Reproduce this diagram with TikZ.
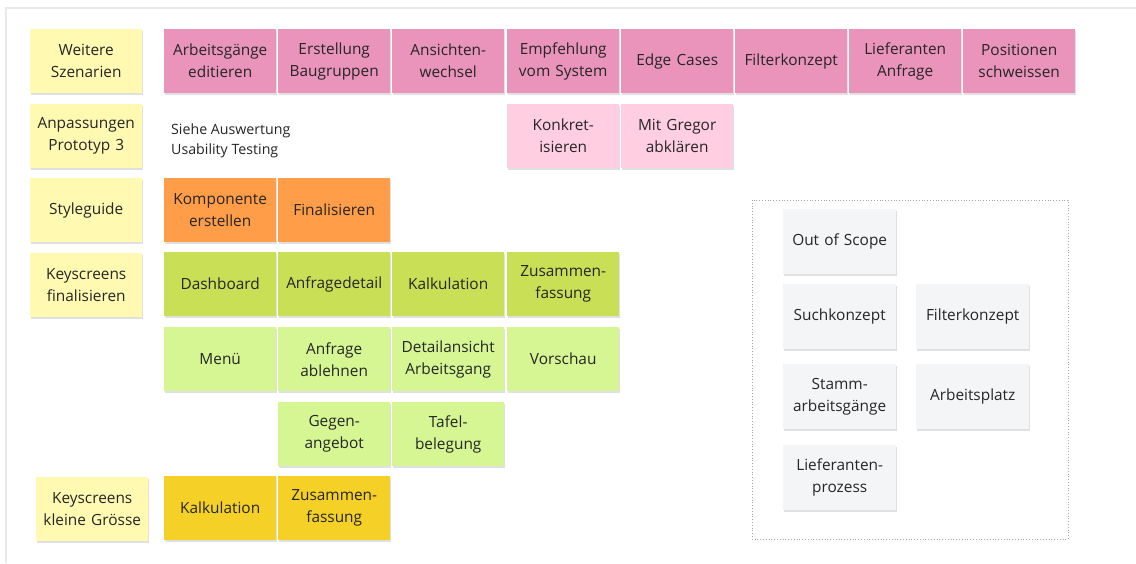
\documentclass[tikz,border=0pt]{standalone}
\usepackage{fontspec}
\setmainfont{Open Sans}
\usetikzlibrary{shadows}
\definecolor{ink}{HTML}{262626}
\definecolor{labelyellow}{HTML}{FFF9B1}
\definecolor{pinkdark}{HTML}{EA94BB}
\definecolor{pinklight}{HTML}{FFCEE0}
\definecolor{orangenote}{HTML}{FF9D48}
\definecolor{greendark}{HTML}{C9DF56}
\definecolor{greenlight}{HTML}{D5F692}
\definecolor{goldnote}{HTML}{F5D128}
\definecolor{graynote}{HTML}{F4F5F7}
\definecolor{framegray}{HTML}{E9E9E9}
\begin{document}
\begin{tikzpicture}[x=1pt,y=-1pt,
  note/.style={anchor=north west, minimum width=112pt, minimum height=64pt,
    inner sep=0pt, align=center, text width=110pt, text=ink,
    font=\fontsize{15.4}{22}\selectfont,
    drop shadow={shadow xshift=1.2pt, shadow yshift=-1.8pt, opacity=0.12, fill=black}},
  label/.style={note, fill=labelyellow},
  pinkA/.style={note, fill=pinkdark},
  pinkB/.style={note, fill=pinklight},
  orangeA/.style={note, fill=orangenote},
  greenA/.style={note, fill=greendark},
  greenB/.style={note, fill=greenlight},
  goldA/.style={note, fill=goldnote},
  grayA/.style={note, fill=graynote, minimum width=113pt, minimum height=65pt},
]
\useasboundingbox (0,0) rectangle (1136,563);
\fill[white] (0,0) rectangle (1136,563);

% board frame
\draw[framegray, line width=1.5pt] (6,563) -- (6,8) -- (1136,8);

% row labels
\node[label] (lWeitere) at (30,29) {Weitere\\Szenarien};
\node[label] (lAnpass) at (30,104) {Anpassungen\\Prototyp 3};
\node[label] (lStyle) at (30,178) {Styleguide};
\node[label] (lKeyFin) at (30,253) {Keyscreens\\finalisieren};
\node[label] (lKeyKlein) at (36,477) {Keyscreens\\kleine Grösse};

% further scenarios
\node[pinkA] (s1) at (164,29) {Arbeitsgänge\\editieren};
\node[pinkA] (s2) at (278,29) {Erstellung\\Baugruppen};
\node[pinkA] (s3) at (392,29) {Ansichten-\\wechsel};
\node[pinkA] (s4) at (507,29) {Empfehlung\\vom System};
\node[pinkA] (s5) at (621,29) {Edge Cases};
\node[pinkA] (s6) at (735,29) {Filterkonzept};
\node[pinkA] (s7) at (849,29) {Lieferanten\\Anfrage};
\node[pinkA] (s8) at (963,29) {Positionen\\schweissen};

% prototype adjustments
\node[anchor=west, align=left, inner sep=0pt, text=ink,
  font=\fontsize{14.2}{20}\selectfont] (hint) at (171,141)
  {Siehe Auswertung\\Usability Testing};
\node[pinkB] (p1) at (507,104) {Konkret-\\isieren};
\node[pinkB] (p2) at (621,104) {Mit Gregor\\abklären};

% styleguide
\node[orangeA] (g1) at (164,178) {Komponente\\erstellen};
\node[orangeA] (g2) at (278,178) {Finalisieren};

% keyscreens
\node[greenA] (k1) at (164,252) {Dashboard};
\node[greenA] (k2) at (278,252) {Anfragedetail};
\node[greenA] (k3) at (392,252) {Kalkulation};
\node[greenA] (k4) at (507,252) {Zusammen-\\fassung};
\node[greenB] (k5) at (164,327) {Menü};
\node[greenB] (k6) at (278,327) {Anfrage\\ablehnen};
\node[greenB] (k7) at (392,327) {Detailansicht\\Arbeitsgang};
\node[greenB] (k8) at (507,327) {Vorschau};
\node[greenB] (k9) at (278,402) {Gegen-\\angebot};
\node[greenB] (k10) at (392,402) {Tafel-\\belegung};

% small keyscreens
\node[goldA] (m1) at (164,476) {Kalkulation};
\node[goldA] (m2) at (278,476) {Zusammen-\\fassung};

% out of scope area
\draw[gray!70, dotted, line width=0.8pt] (752,200) rectangle (1068,539);
\node[grayA] (o1) at (783,209) {Out of Scope};
\node[grayA] (o2) at (783,284) {Suchkonzept};
\node[grayA] (o3) at (916,284) {Filterkonzept};
\node[grayA] (o4) at (783,364) {Stamm-\\arbeitsgänge};
\node[grayA] (o5) at (916,364) {Arbeitsplatz};
\node[grayA] (o6) at (783,445) {Lieferanten-\\prozess};
\end{tikzpicture}
\end{document}
